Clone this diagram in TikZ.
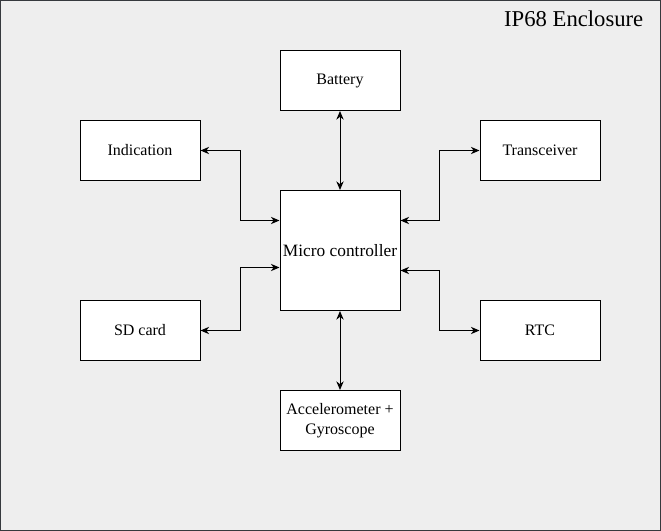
\documentclass[tikz,border=0pt]{standalone}
\usepackage{fontspec}
\setmainfont{Liberation Serif}
\usetikzlibrary{arrows.meta}
\definecolor{encgray}{RGB}{238,238,238}
\definecolor{edgegray}{RGB}{54,57,61}

\begin{document}
\begin{tikzpicture}[x=0.75pt,y=-0.75pt,box/.style={draw,fill=white,line width=0.75pt,align=center,minimum width=90pt,minimum height=45pt,inner sep=1pt,font=\fontsize{12}{15}\selectfont},mcu/.style={box,minimum height=90pt,font=\fontsize{13}{15}\selectfont},link/.style={{Stealth[length=6.5pt,width=5.5pt]}-{Stealth[length=6.5pt,width=5.5pt]},line width=0.75pt}]
\useasboundingbox (0,0) rectangle (661,531);
\draw[edgegray,fill=encgray,line width=0.75pt] (0.5,0.5) rectangle (660.5,530.5);
\node[anchor=east,font=\fontsize{17}{20}\selectfont] (ttl) at (648,19) {IP68 Enclosure};
\node[mcu] (mc) at (340,250.5) {Micro controller};
\node[box] (bat) at (340,80.5) {Battery};
\node[box] (ind) at (140,150.5) {Indication};
\node[box] (trx) at (540,150.5) {Transceiver};
\node[box] (sd) at (140,330.5) {SD card};
\node[box] (rtc) at (540,330.5) {RTC};
\node[box] (imu) at (340,420.5) {Accelerometer +\\Gyroscope};
\draw[link] (bat)--(mc);
\draw[link] (mc)--(imu);
\draw[link] (ind.east)--++(40,0) |- ([yshift=22.5pt]mc.west);
\draw[link] (sd.east)--++(40,0) |- ([yshift=-12.75pt]mc.west);
\draw[link] (trx.west)--++(-40,0) |- ([yshift=22.5pt]mc.east);
\draw[link] (rtc.west)--++(-40,0) |- ([yshift=-15pt]mc.east);
\end{tikzpicture}
\end{document}
